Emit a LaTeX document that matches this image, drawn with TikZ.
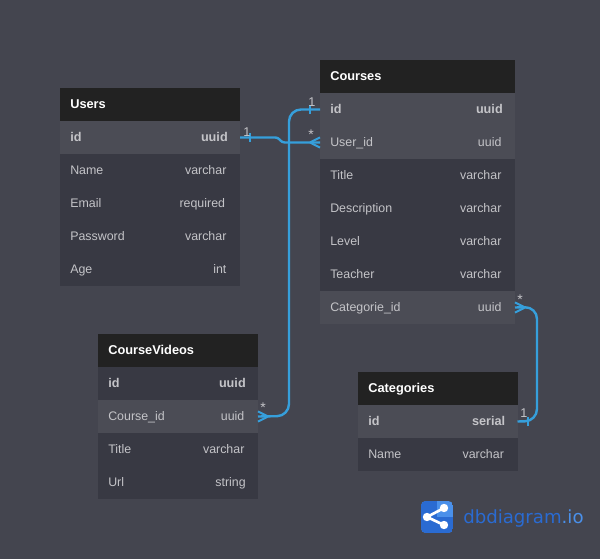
\documentclass[tikz,border=0pt]{standalone}
\usepackage{fontspec}
\setmainfont{Liberation Sans}
\newfontfamily\logofont{DejaVu Sans}
\definecolor{bgc}{HTML}{44454F}
\definecolor{headc}{HTML}{222222}
\definecolor{rowc}{HTML}{383943}
\definecolor{hic}{HTML}{4B4C55}
\definecolor{linec}{HTML}{369FDB}
\definecolor{txtc}{HTML}{C4C4C8}
\definecolor{logoa}{HTML}{2A6BD2}
\definecolor{logob}{HTML}{4A90EA}
\tikzset{
  x=0.75pt,y=-0.75pt,
  cell/.style={anchor=north west,inner sep=0pt,outer sep=0pt,minimum height=24.75pt},
  headcell/.style={cell,fill=headc},
  rowcell/.style={cell,fill=rowc},
  hicell/.style={cell,fill=hic},
  fixedtxt/.style={inner sep=0pt,text height=7pt,text depth=2pt},
  lefttxt/.style={fixedtxt,anchor=west,text=txtc,font=\fontsize{9.3}{11}\selectfont},
  righttxt/.style={fixedtxt,anchor=east,text=txtc,font=\fontsize{9.3}{11}\selectfont},
  boldtxt/.style={font=\fontsize{9.5}{11}\selectfont\bfseries},
  headtxt/.style={fixedtxt,anchor=west,text=white,font=\fontsize{9.6}{11}\selectfont\bfseries},
  conn/.style={draw=linec,line width=1.8pt,rounded corners=8pt},
  tickline/.style={draw=linec,line width=1.5pt},
  card/.style={inner sep=0pt,text=txtc,font=\fontsize{9.5}{11}\selectfont},
  cardstar/.style={inner sep=0pt,text=txtc,font=\fontsize{10.5}{12}\selectfont},
}
\newcommand{\tabhead}[5]{% name, x, y, width(px), title
  \node[headcell,minimum width=#4*0.75pt] (#1) at (#2,#3) {};
  \node[headtxt] (#1-t) at ([xshift=7.5pt,yshift=-0.75pt]#1.west) {#5};
}
\newcommand{\tabrow}[9]{% name,x,y,w,style,left,right,font style,right offset
  \node[#5,minimum width=#4*0.75pt] (#1) at (#2,#3) {};
  \node[lefttxt,#8] (#1-l) at ([xshift=7.5pt,yshift=-0.75pt]#1.west) {#6};
  \node[righttxt,#8] (#1-r) at ([xshift=-#9,yshift=-0.75pt]#1.east) {#7};
}
\begin{document}
\begin{tikzpicture}
\useasboundingbox[fill=bgc] (0,0) rectangle (600,559);
% Users
\tabhead{users}{60}{88}{180}{Users}
\tabrow{usersid}{60}{121}{180}{hicell}{id}{uuid}{boldtxt}{9pt}
\tabrow{usersname}{60}{154}{180}{rowcell}{Name}{varchar}{}{10pt}
\tabrow{usersemail}{60}{187}{180}{rowcell}{Email}{required}{}{11pt}
\tabrow{userspw}{60}{220}{180}{rowcell}{Password}{varchar}{}{10pt}
\tabrow{usersage}{60}{253}{180}{rowcell}{Age}{int}{}{10pt}
% Courses
\tabhead{courses}{320}{60}{195}{Courses}
\tabrow{cid}{320}{93}{195}{hicell}{id}{uuid}{boldtxt}{9pt}
\tabrow{cuser}{320}{126}{195}{hicell}{User\_id}{uuid}{}{10pt}
\tabrow{ctitle}{320}{159}{195}{rowcell}{Title}{varchar}{}{10pt}
\tabrow{cdesc}{320}{192}{195}{rowcell}{Description}{varchar}{}{10pt}
\tabrow{clevel}{320}{225}{195}{rowcell}{Level}{varchar}{}{10pt}
\tabrow{cteach}{320}{258}{195}{rowcell}{Teacher}{varchar}{}{10pt}
\tabrow{ccat}{320}{291}{195}{hicell}{Categorie\_id}{uuid}{}{10pt}
% CourseVideos
\tabhead{videos}{98}{334}{160}{CourseVideos}
\tabrow{vid}{98}{367}{160}{rowcell}{id}{uuid}{boldtxt}{9pt}
\tabrow{vcourse}{98}{400}{160}{hicell}{Course\_id}{uuid}{}{10pt}
\tabrow{vtitle}{98}{433}{160}{rowcell}{Title}{varchar}{}{10pt}
\tabrow{vurl}{98}{466}{160}{rowcell}{Url}{string}{}{9pt}
% Categories
\tabhead{cats}{358}{372}{159.5}{Categories}
\tabrow{catid}{358}{405}{159.5}{hicell}{id}{serial}{boldtxt}{9pt}
\tabrow{catname}{358}{438}{159.5}{rowcell}{Name}{varchar}{}{10pt}
% connectors
\draw[conn,rounded corners=2pt] (usersid.east) -- ++(38,0) -- ++(4,5) -- (cuser.west);
\draw[conn,rounded corners=9pt] (cid.west) -| (289,416) -- (vcourse.east);
\draw[conn,rounded corners=9pt] (catid.east) -- (537,421) -- (537,307) -- (ccat.east);
% one-side ticks
\draw[tickline] ([xshift=7.5pt,yshift=-3.4pt]usersid.east) -- ++(0,6.8pt);
\draw[tickline] ([xshift=-7.5pt,yshift=-3.4pt]cid.west) -- ++(0,6.8pt);
\draw[tickline] ([xshift=7.5pt,yshift=-3.4pt]catid.east) -- ++(0,6.8pt);
% crow's feet
\draw[tickline] ([xshift=-7.5pt]cuser.west) -- ([yshift=3.8pt]cuser.west) ([xshift=-7.5pt]cuser.west) -- ([yshift=-3.8pt]cuser.west);
\draw[tickline] ([xshift=7.5pt]vcourse.east) -- ([yshift=3.8pt]vcourse.east) ([xshift=7.5pt]vcourse.east) -- ([yshift=-3.8pt]vcourse.east);
\draw[tickline] ([xshift=7.5pt]ccat.east) -- ([yshift=3.8pt]ccat.east) ([xshift=7.5pt]ccat.east) -- ([yshift=-3.8pt]ccat.east);
% cardinalities
\node[card] (c1) at (247,132) {1};
\node[card] (c2) at (312,102) {1};
\node[cardstar] (c3) at (311,135) {*};
\node[cardstar] (c4) at (263,408) {*};
\node[cardstar] (c5) at (520,300) {*};
\node[card] (c6) at (524,413) {1};
% logo
\begin{scope}
\clip[rounded corners=3.5pt] (421,501) rectangle (453,533);
\fill[logob] (421,501) rectangle (453,533);
\fill[logoa] (421,501) rectangle (437,533);
\fill[logoa] (437,517) rectangle (453,533);
\end{scope}
\draw[white,line width=2pt] (444,508) -- (427,517) -- (444,525);
\fill[white] (444,508) circle (4.2);
\fill[white] (427,517) circle (4.2);
\fill[white] (444,525) circle (4.2);
\node[anchor=west,inner sep=0pt,font=\logofont\fontsize{13.6}{16}\selectfont,text=logoa] (logo) at (463,518) {dbdiagram\textcolor{logob}{.io}};
\end{tikzpicture}
\end{document}
